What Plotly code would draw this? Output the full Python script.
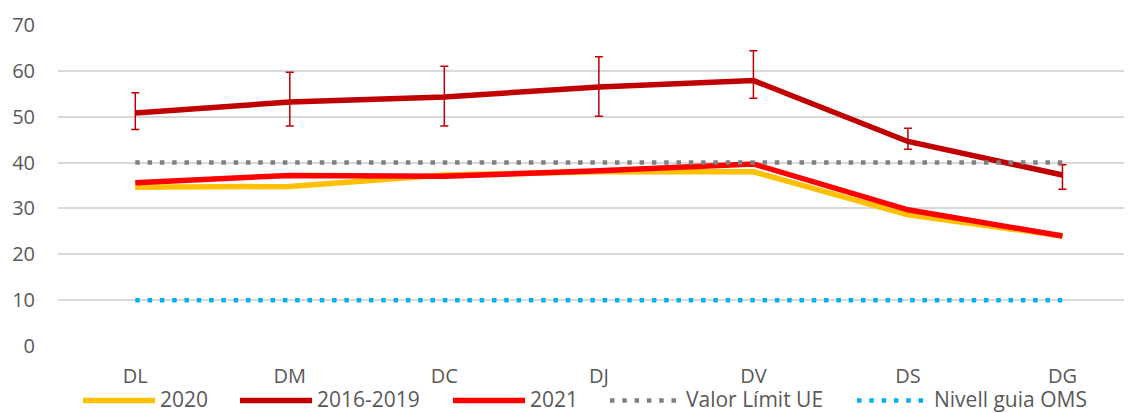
import plotly.graph_objects as go

categories = ["DL", "DM", "DC", "DJ", "DV", "DS", "DG"]
y2020 = [34.6, 34.8, 37.3, 38.0, 38.0, 28.6, 24.0]
y1619 = [50.8, 53.2, 54.3, 56.5, 57.9, 44.6, 37.3]
y1619_hi = [55.2, 59.7, 61.0, 63.1, 64.4, 47.5, 39.5]
y1619_lo = [47.2, 48.0, 48.0, 50.1, 54.0, 42.9, 34.2]
y2021 = [35.6, 37.2, 37.0, 38.2, 39.7, 29.7, 24.0]
valor_limit = [40] * 7
nivell_oms = [10] * 7
yticks = [0, 10, 20, 30, 40, 50, 60, 70]

x = list(range(len(categories)))
err_plus = [h - v for h, v in zip(y1619_hi, y1619)]
err_minus = [v - l for v, l in zip(y1619, y1619_lo)]

FONT = "Open Sans"
TXT = "#595959"
FS = 20
LFS = 21
DOT = "4.5px,7.8px"

series = [
    dict(name="2020", y=y2020, color="#FFC000", width=5.5, dash="solid"),
    dict(name="2016-2019", y=y1619, color="#C00000", width=5.5, dash="solid"),
    dict(name="2021", y=y2021, color="#FF0000", width=5.5, dash="solid"),
    dict(name="Valor Límit UE", y=valor_limit, color="#808080", width=4.5, dash=DOT),
    dict(name="Nivell guia OMS", y=nivell_oms, color="#00B0F0", width=4.5, dash=DOT),
]

fig = go.Figure()
for s in series:
    kw = {}
    if s["name"] == "2016-2019":
        kw["error_y"] = dict(type="data", symmetric=False, array=err_plus,
                             arrayminus=err_minus, color="#C00000",
                             thickness=1.5, width=4)
    fig.add_trace(go.Scatter(x=x, y=s["y"], name=s["name"], mode="lines",
                             line=dict(color=s["color"], width=s["width"], dash=s["dash"]),
                             showlegend=False, **kw))

# page body has an 8px margin; compensate so the chart fills the 1132x413 window
W, H = 1124, 405
ML, MR, MT, MB = 50, 0, 17, 67
PW, PH = W - ML - MR, H - MT - MB


def px_x(px):  # window px -> paper x
    return (px - 8 - ML) / PW


def px_y(py):  # window px -> paper y
    return (H - MB - (py - 8)) / PH


# custom legend (long line samples like the original)
leg_sym = [(83, 155), (240, 312), (453, 525), (610, 677), (857, 924)]
leg_text_x = [159, 316, 529, 685, 933]
shapes, annotations = [], []
for s, (x0, x1), tx in zip(series, leg_sym, leg_text_x):
    ly = px_y(400.5)
    shapes.append(dict(type="line", xref="paper", yref="paper",
                       x0=px_x(x0), x1=px_x(x1), y0=ly, y1=ly,
                       line=dict(color=s["color"], width=s["width"], dash=s["dash"])))
    annotations.append(dict(xref="paper", yref="paper", x=px_x(tx), y=px_y(398.5),
                            xanchor="left", yanchor="middle", showarrow=False,
                            borderpad=0,
                            text=s["name"], font=dict(family=FONT, size=LFS, color=TXT)))

fig.update_layout(
    width=W, height=H,
    margin=dict(l=ML, r=MR, t=MT, b=MB, autoexpand=False),
    paper_bgcolor="white", plot_bgcolor="white",
    font=dict(family=FONT, size=FS, color=TXT),
    showlegend=False,
    shapes=shapes, annotations=annotations,
)
fig.update_xaxes(range=[-0.5, 6.45], tickmode="array", tickvals=x, ticktext=categories,
                 showgrid=False, zeroline=False, showline=False, automargin=False,
                 ticklabelstandoff=16, tickfont=dict(size=FS, color=TXT))
fig.update_yaxes(range=[0, 70], tickmode="array", tickvals=yticks,
                 showgrid=True, gridcolor="#D9D9D9", gridwidth=1.5,
                 zeroline=False, showline=False, automargin=False,
                 ticklabelstandoff=22, tickfont=dict(size=FS, color=TXT))

fig.write_html("out.html")
